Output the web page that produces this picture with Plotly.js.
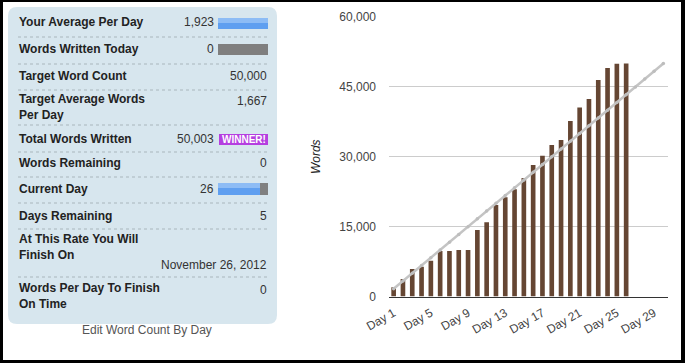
<!DOCTYPE html>
<html>
<head>
<meta charset="utf-8">
<script src="https://cdn.plot.ly/plotly-3.0.1.min.js"></script>
<style>
html,body{margin:0;padding:0;background:#fff;}
#chart{width:685px;height:363px;}
</style>
</head>
<body>
<div id="chart"></div>
<script>
// ---- data ----
var days = ['Day 1','Day 2','Day 3','Day 4','Day 5','Day 6','Day 7','Day 8','Day 9','Day 10',
  'Day 11','Day 12','Day 13','Day 14','Day 15','Day 16','Day 17','Day 18','Day 19','Day 20',
  'Day 21','Day 22','Day 23','Day 24','Day 25','Day 26','Day 27','Day 28','Day 29','Day 30'];
var wordsWritten = [2000, 3750, 5900, 6400, 7700, 9770, 9770, 10000, 10000, 14280,
  15950, 19650, 21300, 23000, 25450, 28230, 30230, 32500, 33600, 37700,
  40550, 42400, 46500, 49050, 49950, 50003];
var targetWords = [1667, 3333, 5000, 6667, 8333, 10000, 11667, 13333, 15000, 16667,
  18333, 20000, 21667, 23333, 25000, 26667, 28333, 30000, 31667, 33333,
  35000, 36667, 38333, 40000, 41667, 43333, 45000, 46667, 48333, 50000];
var xTickLabels = ['Day 1','Day 5','Day 9','Day 13','Day 17','Day 21','Day 25','Day 29'];
var yTickValues = [0, 15000, 30000, 45000, 60000];

var statLabels = [
  ['Your Average Per Day'],
  ['Words Written Today'],
  ['Target Word Count'],
  ['Target Average Words', 'Per Day'],
  ['Total Words Written'],
  ['Words Remaining'],
  ['Current Day'],
  ['Days Remaining'],
  ['At This Rate You Will', 'Finish On'],
  ['Words Per Day To Finish', 'On Time']
];
var statValues = ['1,923', '0', '50,000', '1,667', '50,003', '0', '26', '5', 'November 26, 2012', '0'];

// ---- layout helpers (pixel -> paper) ----
var W = 685, H = 363;
function px(x){ return x / W; }
function py(y){ return 1 - y / H; }
var FONT = 'Liberation Sans, Arial, sans-serif';

function roundRect(x0, y0, x1, y1, r){
  var p = 'M' + px(x0 + r) + ',' + py(y0) +
    ' L' + px(x1 - r) + ',' + py(y0) +
    ' Q' + px(x1) + ',' + py(y0) + ' ' + px(x1) + ',' + py(y0 + r) +
    ' L' + px(x1) + ',' + py(y1 - r) +
    ' Q' + px(x1) + ',' + py(y1) + ' ' + px(x1 - r) + ',' + py(y1) +
    ' L' + px(x0 + r) + ',' + py(y1) +
    ' Q' + px(x0) + ',' + py(y1) + ' ' + px(x0) + ',' + py(y1 - r) +
    ' L' + px(x0) + ',' + py(y0 + r) +
    ' Q' + px(x0) + ',' + py(y0) + ' ' + px(x0 + r) + ',' + py(y0) + ' Z';
  return p;
}
function rectPx(x0, y0, x1, y1, color){
  return {type:'rect', xref:'paper', yref:'paper', x0:px(x0), x1:px(x1), y0:py(y1), y1:py(y0),
    fillcolor:color, line:{width:0}};
}

var shapes = [];
var annotations = [];

// panel
shapes.push({type:'path', xref:'paper', yref:'paper', path: roundRect(8, 7, 277, 324, 9),
  fillcolor:'#d7e6ee', line:{width:0}});

// row geometry (label centre y for each row)
var rowTextY = [22, 49, 76, 107, 139, 163, 189, 216, 247, 296];
var valueY   = [22, 49, 76, 101, 139, 163, 189, 216, 265, 290];
var valueX   = [215, 215, 268, 268, 215, 268, 215, 268, 268, 268];
var sepY     = [37, 64, 90, 125, 152, 177, 203, 229, 277];

sepY.forEach(function(y){
  shapes.push({type:'line', xref:'paper', yref:'paper', x0:px(18), x1:px(268), y0:py(y), y1:py(y),
    line:{color:'#a9b6bc', width:1, dash:'dot'}});
});

statLabels.forEach(function(lines, i){
  annotations.push({xref:'paper', yref:'paper', x:px(17), y:py(rowTextY[i]), xanchor:'left', yanchor:'middle',
    align:'left', text:'<b>' + lines.join('<br>') + '</b>', showarrow:false,
    font:{family:FONT, size:12, color:'#222'}});
  annotations.push({xref:'paper', yref:'paper', x:px(valueX[i] + 1), y:py(valueY[i]), xanchor:'right', yanchor:'middle',
    text: statValues[i], showarrow:false, font:{family:FONT, size:12, color:'#333'}});
});

// little bars in the panel
shapes.push(rectPx(218, 18, 268, 23, '#8dbcf5'));
shapes.push(rectPx(218, 23, 268, 29, '#5f9ff0'));
shapes.push(rectPx(218, 44, 268, 55, '#7f7f7f'));
shapes.push(rectPx(218, 183, 260, 188, '#8dbcf5'));
shapes.push(rectPx(218, 188, 260, 195, '#5f9ff0'));
shapes.push(rectPx(260, 183, 268, 195, '#808080'));
// WINNER badge
shapes.push(rectPx(219, 134, 268, 145, '#b53fe0'));
annotations.push({xref:'paper', yref:'paper', x:px(243.5), y:py(139.5), xanchor:'center', yanchor:'middle',
  text:'<b>WINNER!</b>', showarrow:false, font:{family:FONT, size:10, color:'#ffffff'}});

// link text under panel
annotations.push({xref:'paper', yref:'paper', x:px(147), y:py(330), xanchor:'center', yanchor:'middle',
  text:'Edit Word Count By Day', showarrow:false, font:{family:FONT, size:12, color:'#555'}});

// black frame
shapes.push(rectPx(0, 0, 685, 2, '#000'));
shapes.push(rectPx(0, 360, 685, 363, '#000'));
shapes.push(rectPx(0, 0, 3, 363, '#000'));
shapes.push(rectPx(681, 0, 685, 363, '#000'));

var traces = [
  {type:'bar', x: days.slice(0, wordsWritten.length), y: wordsWritten, marker:{color:'#654633'},
   hoverinfo:'x+y', name:'Words'},
  {type:'scatter', mode:'lines+markers', x: days, y: targetWords,
   line:{color:'#c4c4c4', width:2.5}, marker:{color:'#bdbdbd', size:3.5}, name:'Target'}
];

var layout = {
  width: W, height: H,
  margin: {l:0, r:0, t:0, b:0},
  paper_bgcolor:'#ffffff', plot_bgcolor:'#ffffff',
  showlegend:false,
  bargap: 0.5,
  font:{family:FONT, size:12, color:'#444'},
  xaxis: {
    type:'category', domain:[px(389), px(668)], range:[-0.5, 29.5],
    categoryorder:'array', categoryarray: days,
    tickmode:'array', tickvals: xTickLabels, ticktext: xTickLabels,
    tickangle:-30, ticks:'', showgrid:false, showline:true, linecolor:'#333', linewidth:1,
    tickfont:{family:FONT, size:12, color:'#444'}, ticklabelstandoff: 4, fixedrange:true
  },
  yaxis: {
    domain:[py(296.5), py(17)], range:[0, 60000],
    tickmode:'array', tickvals: yTickValues, tickformat:',d',
    ticks:'', showgrid:true, gridcolor:'#cccccc', gridwidth:1, zeroline:false, showline:false,
    tickfont:{family:FONT, size:12, color:'#444'}, ticklabelstandoff: 12,
    title:{text:'<i>Words</i>', font:{family:FONT, size:12, color:'#222'}, standoff: 16},
    fixedrange:true
  },
  shapes: shapes,
  annotations: annotations
};

Plotly.newPlot('chart', traces, layout, {displayModeBar:false, staticPlot:true});
</script>
</body>
</html>
